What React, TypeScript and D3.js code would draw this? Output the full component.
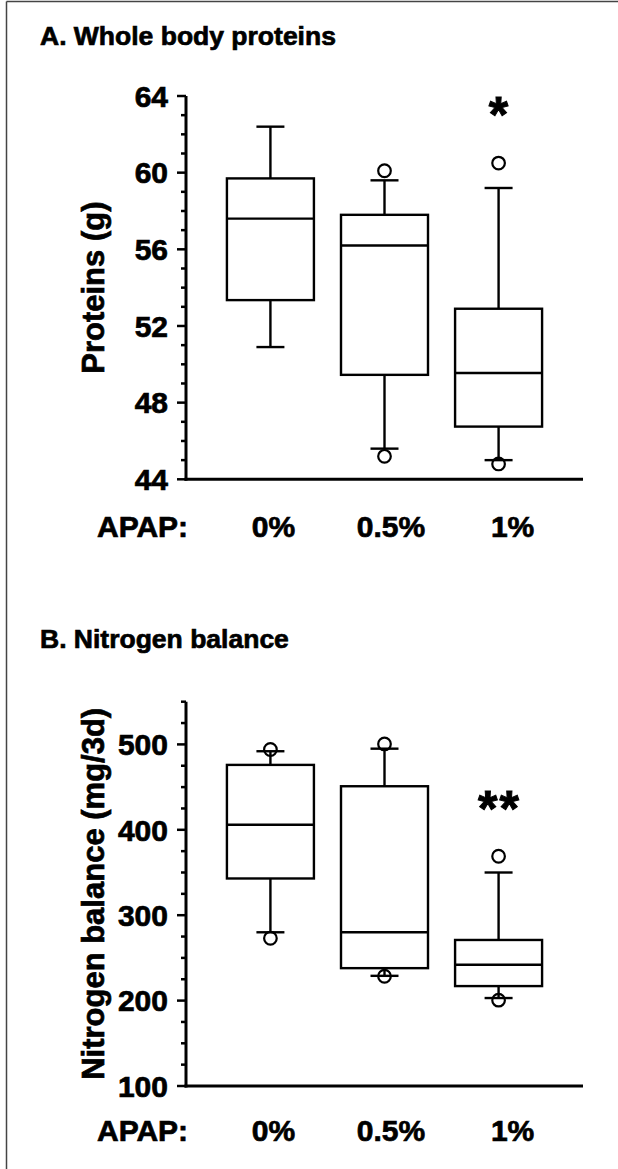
import React from "react";
import * as d3 from "d3";

const groups = ["0%", "0.5%", "1%"];
const xLabelPrefix = "APAP:";

// Panel A: Whole body proteins (g)
const proteinsLow = [50.9, 45.6, 45.0];
const proteinsQ1 = [53.35, 49.45, 46.75];
const proteinsMedian = [57.6, 56.2, 49.55];
const proteinsQ3 = [59.7, 57.8, 52.9];
const proteinsHigh = [62.4, 59.6, 59.2];
const proteinsOutliers = [[], [45.2, 60.1], [44.8, 60.5]];
const proteinsTicks = [44, 48, 52, 56, 60, 64];
const proteinsSig = ["", "", "*"];

// Panel B: Nitrogen balance (mg/3d)
const nitroLow = [280, 229, 203];
const nitroQ1 = [343, 238, 217];
const nitroMedian = [406, 280, 242];
const nitroQ3 = [476, 451, 271];
const nitroHigh = [492, 495, 350];
const nitroOutliers = [[273, 494], [228.5, 500.5], [200.5, 369]];
const nitroTicks = [100, 200, 300, 400, 500];
const nitroSig = ["", "", "**"];

const FONT = "'Liberation Sans', Arial, Helvetica, sans-serif";
const TXT = { fontFamily: FONT, fontWeight: "bold" as const, fill: "#000", stroke: "#000", strokeWidth: 0.7 };

type PanelProps = {
  title: string;
  titleY: number;
  yLabel: string;
  top: number;
  bottom: number;
  domain: [number, number];
  ticks: number[];
  minorStep: number;
  low: number[];
  q1: number[];
  med: number[];
  q3: number[];
  high: number[];
  outliers: number[][];
  sig: string[];
  sigY: number;
  labelBaseline: number;
};

function Panel(p: PanelProps) {
  const left = 186;
  const right = 583;
  const y = d3.scaleLinear().domain(p.domain).range([p.bottom, p.top]);
  const x = d3.scalePoint<string>().domain(groups).range([left, right]).padding(0.74);
  const minors = d3.range(p.domain[0], p.domain[1] + 1e-9, p.minorStep).filter(
    (v) => !p.ticks.some((t) => Math.abs(t - v) < 1e-9)
  );
  const boxHalf = 43.5;
  const capHalf = 14;
  const labelDx = [3, 6.5, 14];
  const sw = 2.4;
  const yMid = (p.top + p.bottom) / 2;
  return (
    <g>
      <text x={40} y={p.titleY} fontSize={26.5} {...TXT}>
        {p.title}
      </text>
      <text transform={`translate(104,${yMid}) rotate(-90)`} textAnchor="middle" fontSize={31} {...TXT}>
        {p.yLabel}
      </text>
      {/* axes */}
      <line x1={left} x2={left} y1={y(p.domain[0]) + 1.5} y2={y(p.domain[1])} stroke="#000" strokeWidth={3} />
      <line x1={left - 1.5} x2={right} y1={y(p.domain[0])} y2={y(p.domain[0])} stroke="#000" strokeWidth={3} />
      {p.ticks.map((t) => (
        <g key={t}>
          <line x1={left - 9} x2={left} y1={y(t)} y2={y(t)} stroke="#000" strokeWidth={2.5} />
          <text x={168} y={y(t)} dy="0.36em" textAnchor="end" fontSize={30} {...TXT}>
            {t}
          </text>
        </g>
      ))}
      {minors.map((t) => (
        <line key={"m" + t} x1={left - 5} x2={left} y1={y(t)} y2={y(t)} stroke="#000" strokeWidth={2.5} />
      ))}
      {/* boxes */}
      {groups.map((g, i) => {
        const cx = x(g)!;
        return (
          <g key={g}>
            <g fill="none" stroke="#000" strokeWidth={sw}>
              <line x1={cx} x2={cx} y1={y(p.high[i])} y2={y(p.q3[i])} />
              <line x1={cx} x2={cx} y1={y(p.q1[i])} y2={y(p.low[i])} />
              <line x1={cx - capHalf} x2={cx + capHalf} y1={y(p.high[i])} y2={y(p.high[i])} />
              <line x1={cx - capHalf} x2={cx + capHalf} y1={y(p.low[i])} y2={y(p.low[i])} />
              <rect
                x={cx - boxHalf}
                y={y(p.q3[i])}
                width={boxHalf * 2}
                height={y(p.q1[i]) - y(p.q3[i])}
                fill="#fff"
              />
              <line x1={cx - boxHalf} x2={cx + boxHalf} y1={y(p.med[i])} y2={y(p.med[i])} />
              {p.outliers[i].map((o, k) => (
                <circle key={k} cx={cx} cy={y(o)} r={6.3} fill="none" strokeWidth={2.2} />
              ))}
            </g>
            {p.sig[i] ? (
              <text x={cx + 1} y={p.sigY} textAnchor="middle" fontSize={50} letterSpacing={2} {...TXT} strokeWidth={1}>
                {p.sig[i]}
              </text>
            ) : null}
          </g>
        );
      })}
      {/* category labels */}
      <text x={97} y={p.labelBaseline} fontSize={30} {...TXT}>
        {xLabelPrefix}
      </text>
      {groups.map((g, i) => (
        <text key={"l" + g} x={x(g)! + labelDx[i]} y={p.labelBaseline} textAnchor="middle" fontSize={30} {...TXT}>
          {g}
        </text>
      ))}
    </g>
  );
}

export default function App() {
  return (
    <svg width={618} height={1169} style={{ position: "absolute", left: 0, top: 0, background: "#fff" }}>
      <rect x={0} y={0} width={618} height={1169} fill="#fff" />
      <line x1={6.5} x2={618} y1={1.5} y2={1.5} stroke="#444" strokeWidth={1.5} />
      <line x1={6.5} x2={6.5} y1={1.5} y2={1169} stroke="#444" strokeWidth={1.5} />
      <Panel
        title="A. Whole body proteins"
        titleY={45}
        yLabel="Proteins (g)"
        top={96}
        bottom={479.3}
        domain={[44, 64]}
        ticks={proteinsTicks}
        minorStep={1}
        low={proteinsLow}
        q1={proteinsQ1}
        med={proteinsMedian}
        q3={proteinsQ3}
        high={proteinsHigh}
        outliers={proteinsOutliers}
        sig={proteinsSig}
        sigY={132}
        labelBaseline={537}
      />
      <Panel
        title="B. Nitrogen balance"
        titleY={648}
        yLabel="Nitrogen balance (mg/3d)"
        top={701.7}
        bottom={1086}
        domain={[100, 550]}
        ticks={nitroTicks}
        minorStep={25}
        low={nitroLow}
        q1={nitroQ1}
        med={nitroMedian}
        q3={nitroQ3}
        high={nitroHigh}
        outliers={nitroOutliers}
        sig={nitroSig}
        sigY={826}
        labelBaseline={1141}
      />
    </svg>
  );
}
